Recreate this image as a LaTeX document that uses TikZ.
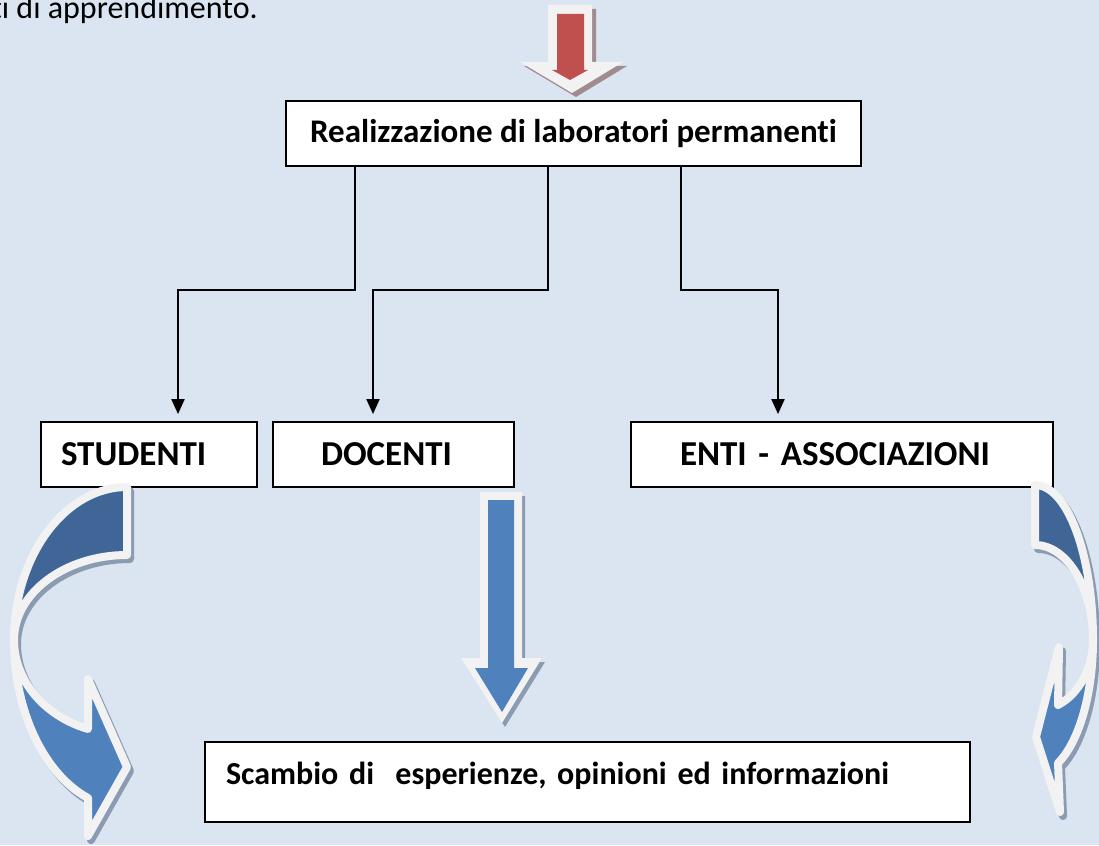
\documentclass[tikz,border=0pt]{standalone}
\usepackage{fontspec}
\setmainfont{Carlito}[Ligatures=NoCommon]
\usetikzlibrary{arrows.meta,positioning}
\definecolor{paper}{HTML}{DBE5F1}
\definecolor{rimwhite}{HTML}{F2F2F2}
\definecolor{arrowblue}{HTML}{4F81BD}
\definecolor{arrowdark}{HTML}{3F6697}
\definecolor{arrowred}{HTML}{C0504D}
\definecolor{blueshade}{HTML}{8A9BB2}
\definecolor{redshade}{HTML}{A08B91}
\tikzstyle{box}=[draw=black,line width=1.8pt,fill=white,minimum height=65pt,inner ysep=0pt,align=left,font=\bfseries\fontsize{35}{40}\selectfont]
\tikzstyle{link}=[draw,line width=2pt,-{Triangle[length=15pt,width=13pt]},shorten >=7pt]
\tikzstyle{rim}=[draw=rimwhite,line width=8pt,line join=round]
\tikzstyle{rimshade}=[draw=blueshade,fill=blueshade,line width=8pt,line join=round]

\begin{document}
\begin{tikzpicture}[x=1pt,y=-1pt]
    \useasboundingbox (0,0) rectangle (1099,845);
    \fill[paper] (0,0) rectangle (1099,845);
    % end of the sentence above the chart
    \node[anchor=base west,inner sep=0pt,font=\fontsize{32}{38}\selectfont] (intro) at (-9,19) {ti di apprendimento.};

    % First we draw the boxes
    \node[box,minimum width=575pt,font=\bfseries\fontsize{33}{38}\selectfont] (lab) at (573.5,133.5) {Realizzazione di laboratori permanenti};
    \node[box,text width=176pt,inner xsep=20pt] (stud) at (149,454.5) {STUDENTI};
    \node[box,text width=145pt,inner xsep=48pt] (doc) at (393.5,454.5) {DOCENTI};
    \node[box,text width=324pt,inner xsep=49pt] (enti) at (842,454.5) {ENTI - ASSOCIAZIONI};
    \node[box,text width=723pt,inner xsep=21pt,minimum height=80pt,text height=42pt,text depth=38pt,font=\bfseries\fontsize{32}{38}\selectfont] (scambio) at (587.5,782) {Scambio di\ \ esperienze, opinioni ed informazioni};

    % Connect the top box with the three groups
    \foreach \sx/\tx/\dest in {355/178/stud, 548/373/doc, 681/778/enti}
        \path[link] (lab.south -| \sx,0) |- (\tx,290) -- (\tx,290 |- \dest.north);

    % red block arrow
    \fill[redshade,shift={(4,4)}] (548,5) -- (592,5) -- (592,62) -- (623,62) -- (572,93) -- (520,62) -- (548,62) -- cycle;
    \fill[rimwhite] (548,5) -- (592,5) -- (592,62) -- (623,62) -- (572,93) -- (520,62) -- (548,62) -- cycle;
    \fill[arrowred] (557,14) -- (584,14) -- (584,70) -- (588,70) -- (570,80) -- (552,70) -- (557,70) -- cycle;

    % blue block arrow under DOCENTI
    \fill[blueshade,shift={(3,4)}] (480,492) -- (522,492) -- (522,658) -- (542,658) -- (502,723) -- (461,658) -- (480,658) -- cycle;
    \fill[rimwhite] (480,492) -- (522,492) -- (522,658) -- (542,658) -- (502,723) -- (461,658) -- (480,658) -- cycle;
    \fill[arrowblue] (488,500) -- (514,500) -- (514,668) -- (528,668) -- (502,712) -- (475,668) -- (488,668) -- cycle;

    % curved arrows, shadow first
    \begin{scope}[shift={(3,4)}]
        \path[rimshade] (127,487) .. controls (65,487) and (14,556) .. (14,640) .. controls (14,593) and (65,555) .. (127,555) -- cycle;
        \path[rimshade] (14,640) .. controls (14,711) and (44,774) .. (88,798) -- (88,836) -- (127,767) -- (88,679) -- (88,729) .. controls (44,716) and (14,680) .. (14,640) -- cycle;
        \path[rimshade] (1035,485) .. controls (1067,485) and (1093,554) .. (1093,640) .. controls (1093,588) and (1067,545) .. (1035,545) -- cycle;
        \path[rimshade] (1093,640) .. controls (1093,694) and (1079,742) .. (1058,763) -- (1060,812) -- (1036,737) -- (1059,647) -- (1058,705) .. controls (1079,694) and (1093,668) .. (1093,640) -- cycle;
    \end{scope}
    % left curved arrow
    \path[rim,fill=arrowdark] (127,487) .. controls (65,487) and (14,556) .. (14,640) .. controls (14,593) and (65,555) .. (127,555) -- cycle;
    \path[rim,fill=arrowblue] (14,640) .. controls (14,711) and (44,774) .. (88,798) -- (88,836) -- (127,767) -- (88,679) -- (88,729) .. controls (44,716) and (14,680) .. (14,640) -- cycle;
    % right curved arrow
    \path[rim,fill=arrowdark] (1035,485) .. controls (1067,485) and (1093,554) .. (1093,640) .. controls (1093,588) and (1067,545) .. (1035,545) -- cycle;
    \path[rim,fill=arrowblue] (1093,640) .. controls (1093,694) and (1079,742) .. (1058,763) -- (1060,812) -- (1036,737) -- (1059,647) -- (1058,705) .. controls (1079,694) and (1093,668) .. (1093,640) -- cycle;
\end{tikzpicture}
\end{document}
